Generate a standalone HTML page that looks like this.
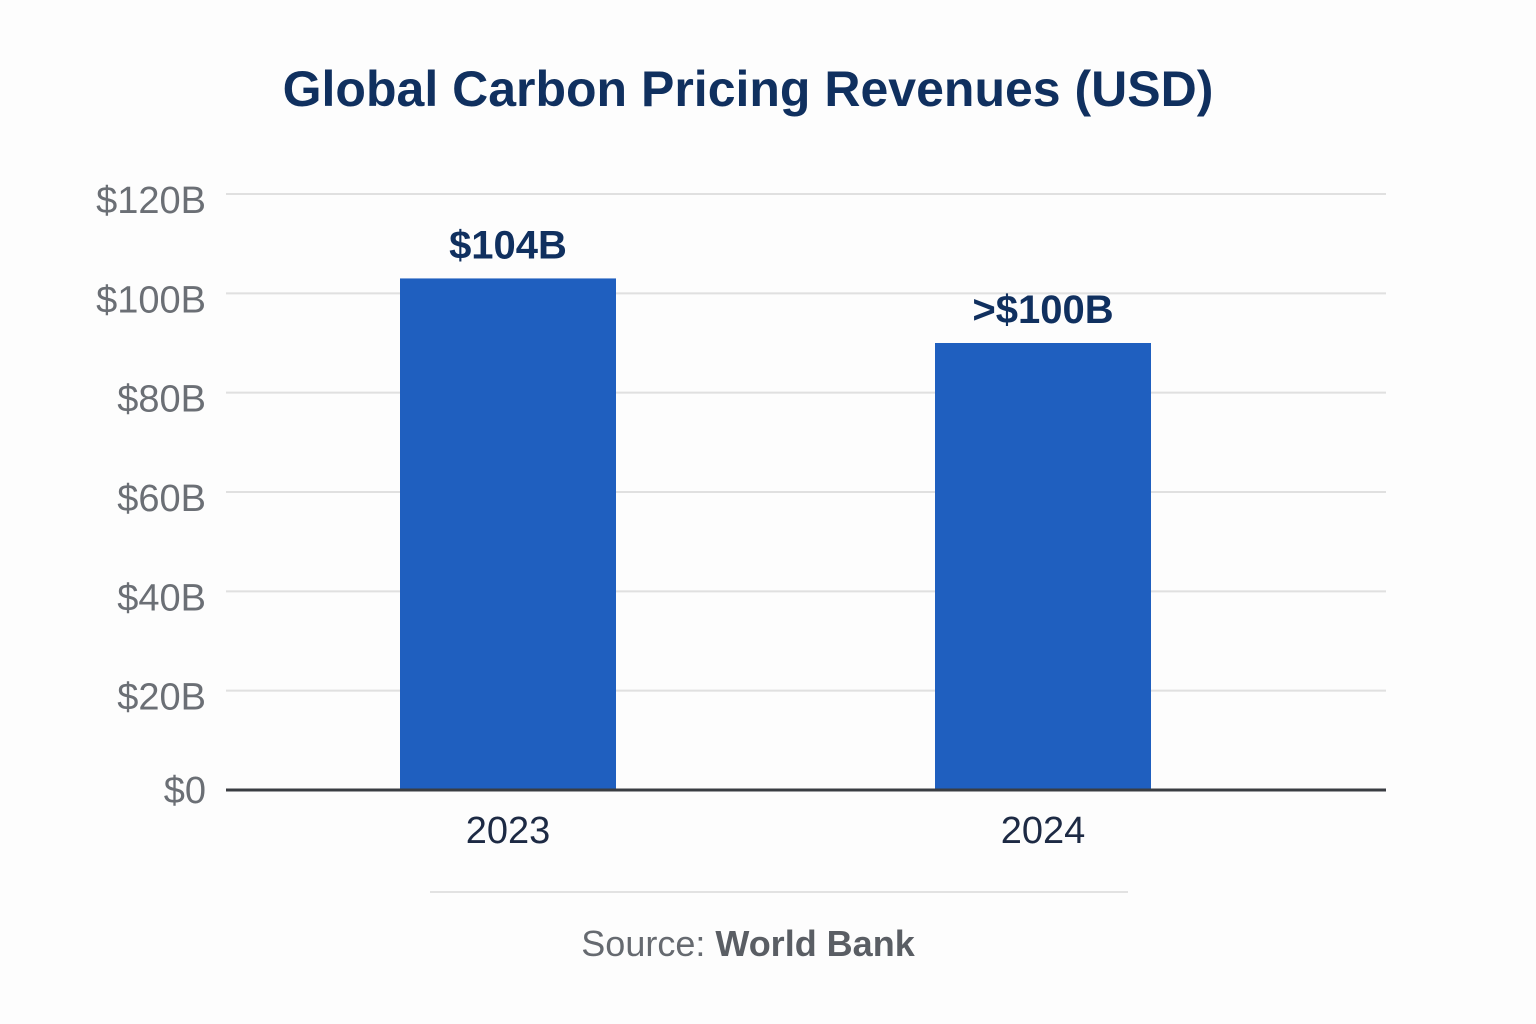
<!DOCTYPE html>
<html><head><meta charset="utf-8"><style>
html,body{margin:0;padding:0;background:#fdfdfd;}
svg{display:block;}
</style></head><body>
<svg id="chart" width="1536" height="1024" viewBox="0 0 1536 1024">
<rect width="1536" height="1024" fill="#fdfdfd"/>
<text x="748" y="106" text-anchor="middle" font-family="Liberation Sans, sans-serif" font-weight="bold" font-size="50" fill="#10305f">Global Carbon Pricing Revenues (USD)</text>
<g id="grid"></g><g id="bars"></g>
<line x1="430" y1="892" x2="1128" y2="892" stroke="#e2e2e2" stroke-width="2"/>
<text x="748" y="956" text-anchor="middle" font-family="Liberation Sans, sans-serif" font-size="36" fill="#666a70">Source: <tspan font-weight="bold" fill="#5a5e64">World Bank</tspan></text>
</svg>
<script>
const categories=["2023","2024"];
const values=[103,90];
const valueLabels=["$104B",">$100B"];
const tickValues=[0,20,40,60,80,100,120];
const tickLabels=["$0","$20B","$40B","$60B","$80B","$100B","$120B"];
const NS="http://www.w3.org/2000/svg";
const y0=790,pxPer=(790-194)/120;
function y(v){return y0-v*pxPer;}
function x(i){return 508+i*535;}
const grid=document.getElementById('grid'),bars=document.getElementById('bars');
function mk(tag,attrs,parent){const e=document.createElementNS(NS,tag);for(const k in attrs)e.setAttribute(k,attrs[k]);parent.appendChild(e);return e;}
tickValues.forEach((t,i)=>{
  if(t!==0){const l=mk('line',{x1:226,x2:1386,y1:y(t),y2:y(t),stroke:'#e0e0e0','stroke-width':2},grid);
  
  }
  const tx=mk('text',{x:206,y:y(t)+(t===0?13:19),'text-anchor':'end','font-family':'Liberation Sans, sans-serif','font-size':38,fill:'#6b6f75'},grid);
  tx.textContent=tickLabels[i];
  
  
});
categories.forEach((c,i)=>{
  const w=216;
  const r=mk('rect',{x:x(i)-w/2,y:y(values[i]),width:w,height:y0-y(values[i]),fill:'#1f5fbf'},bars);
  
  
  const lb=mk('text',{x:x(i),y:y(values[i])-20,'text-anchor':'middle','font-family':'Liberation Sans, sans-serif','font-weight':'bold','font-size':40,fill:'#10305f'},bars);
  lb.textContent=valueLabels[i];
  
  
  const xl=mk('text',{x:x(i),y:843,'text-anchor':'middle','font-family':'Liberation Sans, sans-serif','font-size':38,fill:'#1d2a44'},bars);
  xl.textContent=c;
  
  
});
const ax=mk('line',{x1:226,x2:1386,y1:y0,y2:y0,stroke:'#3a3d42','stroke-width':3},bars);


</script>
</body></html>
